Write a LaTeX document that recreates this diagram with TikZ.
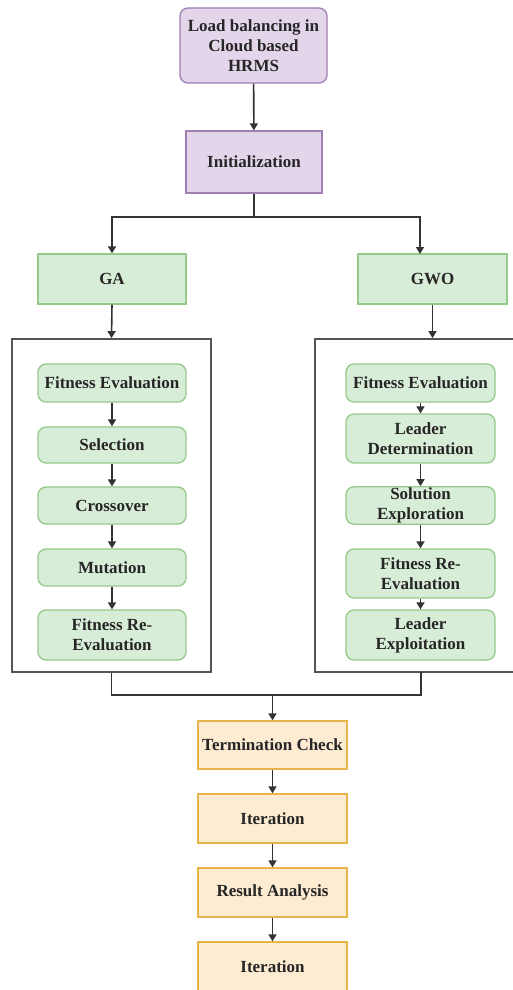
\documentclass[tikz,border=0pt]{standalone}
\usepackage{fontspec}
\setmainfont{Liberation Serif}[BoldFont={Liberation Serif Bold}]
\usetikzlibrary{arrows.meta}
\definecolor{pfill}{HTML}{E3D6EA}
\definecolor{pline}{HTML}{A07FB4}
\definecolor{gfill}{HTML}{D8EDD7}
\definecolor{gline}{HTML}{95C98A}
\definecolor{ofill}{HTML}{FDEBD2}
\definecolor{oline}{HTML}{E8B54A}
\definecolor{lnk}{HTML}{333333}
\definecolor{frame}{HTML}{555555}
\begin{document}
\begin{tikzpicture}[x=1pt,y=-1pt,
  every node/.style={font=\fontsize{17}{20}\selectfont\rmfamily\bfseries, text=black!85, align=center, inner sep=1pt},
  purp/.style={draw=pline, fill=pfill, line width=1.3pt},
  grn/.style={draw=gline, fill=gfill, line width=1.3pt},
  org/.style={draw=oline, fill=ofill, line width=1.3pt},
  rnd/.style={rounded corners=8pt},
  big/.style={draw=frame, line width=1.8pt, fill=white},
  lnkline/.style={draw=lnk, line width=1.6pt},
  arr/.style={lnkline, -{Triangle[width=8pt,length=7pt]}}]
\useasboundingbox (0,0) rectangle (513,990);
\fill[white] (0,0) rectangle (513,990);
% top
\node[purp,rnd,minimum width=147pt,minimum height=75pt] (top) at (253.5,45.5) {Load balancing in\\Cloud based\\HRMS};
\node[purp,minimum width=136pt,minimum height=62pt] (init) at (254,162) {Initialization};
\node[grn,minimum width=148pt,minimum height=50pt] (ga) at (112,279) {GA};
\node[grn,minimum width=149pt,minimum height=50pt] (gwo) at (432.5,279) {GWO};
% frames
\node[big,minimum width=199pt,minimum height=333pt] (lbox) at (111.5,505.5) {};
\node[big,minimum width=205pt,minimum height=333pt] (rbox) at (417.5,505.5) {};
% left inner
\node[grn,rnd,minimum width=148pt,minimum height=38pt] (l1) at (112,383) {Fitness Evaluation};
\node[grn,rnd,minimum width=148pt,minimum height=36pt] (l2) at (112,445) {Selection};
\node[grn,rnd,minimum width=148pt,minimum height=37pt] (l3) at (112,505.5) {Crossover};
\node[grn,rnd,minimum width=148pt,minimum height=37pt] (l4) at (112,567.5) {Mutation};
\node[grn,rnd,minimum width=148pt,minimum height=50pt] (l5) at (112,635) {Fitness Re-\\Evaluation};
% right inner
\node[grn,rnd,minimum width=149pt,minimum height=38pt] (r1) at (420.5,383) {Fitness Evaluation};
\node[grn,rnd,minimum width=149pt,minimum height=49pt] (r2) at (420.5,438.5) {Leader\\Determination};
\node[grn,rnd,minimum width=149pt,minimum height=37pt] (r3) at (420.5,505.5) {Solution\\Exploration};
\node[grn,rnd,minimum width=149pt,minimum height=49pt] (r4) at (420.5,573.5) {Fitness Re-\\Evaluation};
\node[grn,rnd,minimum width=149pt,minimum height=50pt] (r5) at (420.5,635) {Leader\\Exploitation};
% bottom
\node[org,minimum width=149pt,minimum height=48pt] (term) at (272.5,745) {Termination Check};
\node[org,minimum width=149pt,minimum height=49pt] (it1) at (272.5,818.5) {Iteration};
\node[org,minimum width=149pt,minimum height=49pt] (res) at (272.5,892.5) {Result Analysis};
\node[org,minimum width=149pt,minimum height=49pt] (it2) at (272.5,966.5) {Iteration};
% coordinates
\coordinate (split) at (254,217);
\coordinate (gwoin) at (420,254);
\coordinate (rbot) at (421,672);
\coordinate (join) at (272.5,695);
% connectors
\draw[arr] (top) -- (init);
\draw[lnkline] (init.south) -- (split);
\draw[arr] (split) -| (ga.north);
\draw[arr] (split) -| (gwoin);
\draw[arr] (ga.south) -- (lbox.north);
\draw[arr] (gwo.south) -- (gwo.south |- rbox.north);
\foreach \a/\b in {l1/l2,l2/l3,l3/l4,l4/l5,r1/r2,r2/r3,r3/r4,r4/r5}
  \draw[arr] (\a.south) -- (\b.north);
\draw[lnkline] (lbox.south) |- (join) -| (rbot);
\draw[arr] (join) -- (term.north);
\draw[arr] (term) -- (it1);
\draw[arr] (it1) -- (res);
\draw[arr] (res) -- (it2);
\end{tikzpicture}
\end{document}
